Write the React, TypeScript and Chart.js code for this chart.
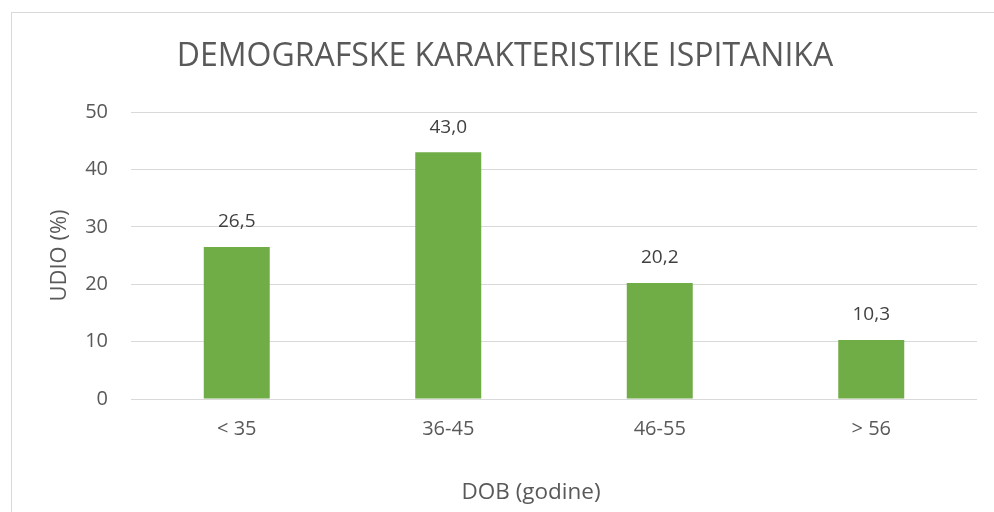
import React, { useEffect, useRef } from "react";
import { Chart, registerables } from "chart.js";

Chart.register(...registerables);

const categories = ["< 35", "36-45", "46-55", "> 56"];
const values = [26.5, 43.0, 20.2, 10.3];
const yTicks = [0, 10, 20, 30, 40, 50];
const chartTitle = "DEMOGRAFSKE KARAKTERISTIKE ISPITANIKA";
const yTitle = "UDIO (%)";
const xTitle = "DOB (godine)";

const FONT = "'Open Sans', 'Noto Sans', sans-serif";

const frame = {
  id: "frame",
  beforeDraw(chart: any) {
    const ctx = chart.ctx;
    ctx.save();
    ctx.fillStyle = "#ffffff";
    ctx.fillRect(0, 0, chart.width, chart.height);
    ctx.strokeStyle = "#d9d9d9";
    ctx.lineWidth = 1;
    ctx.strokeRect(11.5, 12.5, 1200, 1000);
    ctx.restore();
  },
  afterDraw(chart: any) {
    const ctx = chart.ctx;
    ctx.save();
    ctx.fillStyle = "#595959";
    ctx.textAlign = "center";
    ctx.font = `32px ${FONT}`;
    ctx.textBaseline = "alphabetic";
    ctx.fillText(chartTitle, 505, 66);
    ctx.font = `22.5px ${FONT}`;
    ctx.textBaseline = "middle";
    ctx.fillText(xTitle, 531, 493);
    ctx.restore();
  },
};

const valueLabels = {
  id: "valueLabels",
  afterDatasetsDraw(chart: any) {
    const ctx = chart.ctx;
    const meta = chart.getDatasetMeta(0);
    ctx.save();
    ctx.font = `19px ${FONT}`;
    ctx.fillStyle = "#404040";
    ctx.textAlign = "center";
    ctx.textBaseline = "middle";
    meta.data.forEach((bar: any, i: number) => {
      const v = chart.data.datasets[0].data[i] as number;
      ctx.fillText(v.toFixed(1).replace(".", ","), bar.x, bar.y - 25);
    });
    ctx.restore();
  },
};

export default function App() {
  const ref = useRef<HTMLCanvasElement | null>(null);
  useEffect(() => {
    if (!ref.current) return;
    const chart = new Chart(ref.current, {
      type: "bar",
      data: {
        labels: categories,
        datasets: [
          {
            data: values,
            backgroundColor: "#70AD47",
            categoryPercentage: 1,
            barPercentage: 0.312,
          },
        ],
      },
      plugins: [frame, valueLabels],
      options: {
        responsive: false,
        animation: false,
        layout: { padding: { left: 0, right: 17, top: 112, bottom: 0 } },
        plugins: {
          legend: { display: false },
          tooltip: { enabled: false },
          title: { display: false },
        },
        scales: {
          x: {
            grid: { display: false, drawTicks: false },
            border: { display: false },
            ticks: {
              color: "#595959",
              font: { family: FONT, size: 20 },
              padding: 18.5,
            },
            afterFit(scale: any) {
              scale.height = 113;
            },
          },
          y: {
            min: 0,
            max: 50,
            afterBuildTicks(scale: any) {
              scale.ticks = yTicks.map((v) => ({ value: v }));
            },
            grid: { color: "#d9d9d9", drawTicks: false },
            border: { display: false },
            ticks: {
              color: "#595959",
              font: { family: FONT, size: 20 },
              padding: 23,
            },
            title: {
              display: true,
              text: yTitle,
              color: "#595959",
              font: { family: FONT, size: 22, lineHeight: 1.2 },
              padding: { top: 47, bottom: 0 },
            },
            afterFit(scale: any) {
              scale.width = 131;
            },
          },
        },
      },
    });
    return () => chart.destroy();
  }, []);
  return (
    <div style={{ position: "fixed", left: 0, top: 0, width: 994, height: 512 }}>
      <canvas ref={ref} width={994} height={512} />
    </div>
  );
}
